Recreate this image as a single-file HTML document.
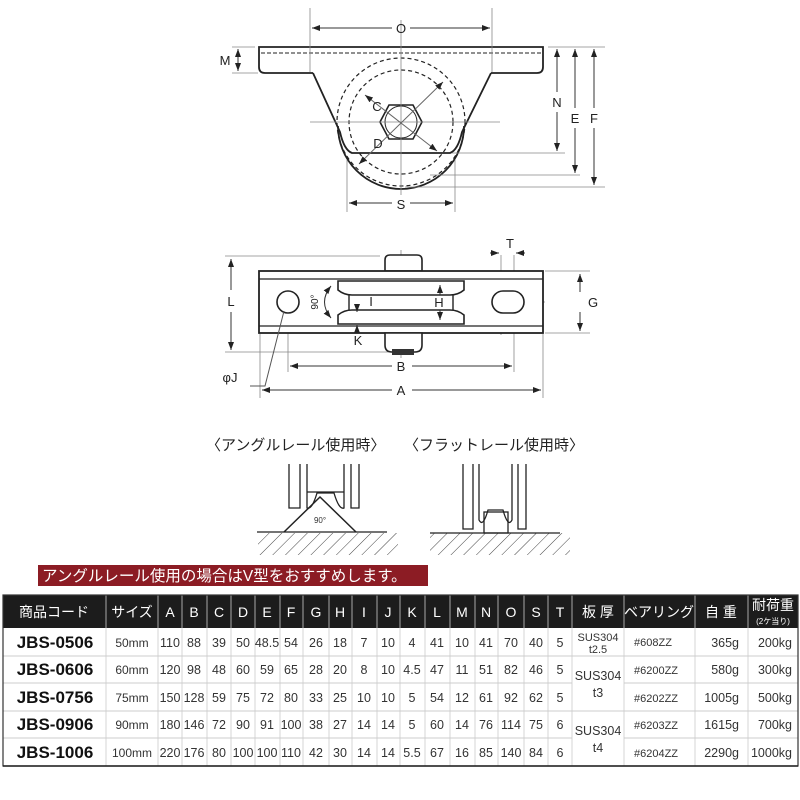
<!DOCTYPE html>
<html><head><meta charset="utf-8"><style>
body{margin:0;background:#fff;width:800px;height:800px;overflow:hidden}
svg{display:block}
text{font-family:"Liberation Sans","Noto Sans CJK JP",sans-serif}
</style></head><body>
<svg width="800" height="800" viewBox="0 0 800 800" xmlns="http://www.w3.org/2000/svg">
<defs>
<marker id="ar" markerWidth="8" markerHeight="6" refX="8" refY="3" orient="auto-start-reverse" markerUnits="userSpaceOnUse"><path d="M0,0 L8,3 L0,6 Z" fill="#222"/></marker>
<pattern id="hatch" width="9" height="9" patternUnits="userSpaceOnUse" patternTransform="rotate(45)"><line x1="0" y1="0" x2="0" y2="9" stroke="#444" stroke-width="1"/></pattern>
</defs>
<g fill="none" stroke="#222" stroke-width="1.8">
<path d="M313,73 L265,73 Q259,73 259,67 L259,47 L543,47 L543,67 Q543,73 537,73 L491,73"/>
<path d="M313,73 L340,132 Q344,150 352,153 L450,153 Q458,150 462,132 L491,73"/>
<path d="M338,126 A63,63 0 0 0 464,126"/>
</g>
<line x1="261" y1="53" x2="541" y2="53" stroke="#222" stroke-width="1" stroke-dasharray="4,2"/>
<circle cx="401" cy="122" r="64" fill="none" stroke="#222" stroke-width="1.2" stroke-dasharray="4,3"/>
<circle cx="401" cy="122" r="52" fill="none" stroke="#222" stroke-width="1.2" stroke-dasharray="4,3"/>
<polygon points="389,105 413,105 422,122 413,139 389,139 380,122" fill="#fff" stroke="#222" stroke-width="1.6"/>
<circle cx="401" cy="122" r="16" fill="none" stroke="#222" stroke-width="1"/>
<g stroke="#888" stroke-width="0.8" fill="none">
<line x1="401" y1="20" x2="401" y2="195"/><line x1="310" y1="122" x2="500" y2="122"/>
<line x1="310" y1="8" x2="310" y2="72"/><line x1="492" y1="8" x2="492" y2="72"/>
<line x1="232" y1="47" x2="255" y2="47"/><line x1="232" y1="73" x2="258" y2="73"/>
<line x1="548" y1="47" x2="605" y2="47"/><line x1="452" y1="153" x2="565" y2="153"/>
<line x1="430" y1="175" x2="580" y2="175"/><line x1="405" y1="187" x2="605" y2="187"/>
<line x1="347" y1="160" x2="347" y2="212"/><line x1="455" y1="160" x2="455" y2="212"/>
</g>
<g stroke="#333" stroke-width="1" fill="none">
<line x1="312" y1="28" x2="392" y2="28" marker-start="url(#ar)"/><line x1="410" y1="28" x2="490" y2="28" marker-end="url(#ar)"/>
<line x1="238" y1="49" x2="238" y2="71" marker-start="url(#ar)" marker-end="url(#ar)"/>
<line x1="557" y1="49" x2="557" y2="92" marker-start="url(#ar)"/><line x1="557" y1="112" x2="557" y2="151" marker-end="url(#ar)"/>
<line x1="575" y1="49" x2="575" y2="108" marker-start="url(#ar)"/><line x1="575" y1="128" x2="575" y2="173" marker-end="url(#ar)"/>
<line x1="594" y1="49" x2="594" y2="108" marker-start="url(#ar)"/><line x1="594" y1="128" x2="594" y2="185" marker-end="url(#ar)"/>
<line x1="349" y1="203" x2="392" y2="203" marker-start="url(#ar)"/><line x1="410" y1="203" x2="453" y2="203" marker-end="url(#ar)"/>
<line x1="365" y1="95" x2="437" y2="151" stroke="#666" marker-start="url(#ar)" marker-end="url(#ar)"/>
<line x1="359" y1="164" x2="443" y2="82" stroke="#666" marker-start="url(#ar)" marker-end="url(#ar)"/>
</g>
<g font-size="13" fill="#222" text-anchor="middle">
<text x="401" y="33">O</text><text x="225" y="65">M</text><text x="557" y="107">N</text>
<text x="575" y="123">E</text><text x="594" y="123">F</text><text x="401" y="209">S</text>
<text x="377" y="111">C</text><text x="378" y="148">D</text>
</g>
<g stroke="#888" stroke-width="0.8">
<line x1="225" y1="256" x2="380" y2="256"/><line x1="225" y1="352" x2="395" y2="352"/>
<line x1="545" y1="271" x2="590" y2="271"/><line x1="545" y1="333" x2="590" y2="333"/>
<line x1="260" y1="334" x2="260" y2="398"/><line x1="543" y1="334" x2="543" y2="398"/>
<line x1="288" y1="285" x2="288" y2="372"/><line x1="514" y1="255" x2="514" y2="372"/>
<line x1="501" y1="255" x2="501" y2="335"/><line x1="401" y1="250" x2="401" y2="358"/>
<line x1="260" y1="302" x2="545" y2="302"/>
</g>
<path d="M385,271 L385,260 Q385,255 390,255 L417,255 Q422,255 422,260 L422,271 Z" fill="#fff" stroke="#222" stroke-width="1.6"/>
<rect x="259" y="271" width="284" height="62" fill="#fff" stroke="#222" stroke-width="1.8"/>
<line x1="259" y1="279" x2="543" y2="279" stroke="#222" stroke-width="1.3"/>
<line x1="259" y1="326" x2="543" y2="326" stroke="#222" stroke-width="1.3"/>
<path d="M385,333 L385,345 Q385,352 392,352 L415,352 Q422,352 422,345 L422,333 Z" fill="#fff" stroke="#222" stroke-width="1.6"/>
<rect x="392" y="349" width="22" height="6" fill="#333"/>
<path d="M338,281 L464,281 L464,290 Q458,295 450,295 L352,295 Q344,295 338,290 Z" fill="#fff" stroke="#222" stroke-width="1.6"/>
<path d="M338,324 L464,324 L464,315 Q458,310 450,310 L352,310 Q344,310 338,315 Z" fill="#fff" stroke="#222" stroke-width="1.6"/>
<line x1="349" y1="295" x2="349" y2="310" stroke="#222" stroke-width="1.4"/>
<line x1="453" y1="295" x2="453" y2="310" stroke="#222" stroke-width="1.4"/>
<circle cx="288" cy="302" r="11" fill="#fff" stroke="#222" stroke-width="1.6"/>
<rect x="492" y="291" width="32" height="22" rx="11" fill="#fff" stroke="#222" stroke-width="1.6"/>
<path d="M331,286 Q318,302 331,318" fill="none" stroke="#333" stroke-width="1" marker-start="url(#ar)" marker-end="url(#ar)"/>
<g stroke="#333" stroke-width="1" fill="none">
<line x1="231" y1="259" x2="231" y2="290" marker-start="url(#ar)"/><line x1="231" y1="312" x2="231" y2="350" marker-end="url(#ar)"/>
<line x1="580" y1="274" x2="580" y2="292" marker-start="url(#ar)"/><line x1="580" y1="312" x2="580" y2="331" marker-end="url(#ar)"/>
<line x1="262" y1="390" x2="392" y2="390" marker-start="url(#ar)"/><line x1="412" y1="390" x2="541" y2="390" marker-end="url(#ar)"/>
<line x1="290" y1="366" x2="392" y2="366" marker-start="url(#ar)"/><line x1="412" y1="366" x2="512" y2="366" marker-end="url(#ar)"/>
<line x1="490" y1="253" x2="499" y2="253" marker-end="url(#ar)"/><line x1="525" y1="253" x2="516" y2="253" marker-end="url(#ar)"/>
<line x1="440" y1="285" x2="440" y2="295" marker-start="url(#ar)"/><line x1="440" y1="320" x2="440" y2="310" marker-start="url(#ar)"/>
<line x1="357" y1="304" x2="357" y2="312" marker-end="url(#ar)"/><line x1="357" y1="330" x2="357" y2="325" marker-end="url(#ar)"/>
<polyline points="250,386 265,386 284,311" stroke="#555"/>
</g>
<g font-size="13" fill="#222" text-anchor="middle">
<text x="231" y="306">L</text><text x="593" y="307">G</text><text x="401" y="395">A</text><text x="401" y="371">B</text>
<text x="510" y="248">T</text><text x="439" y="307">H</text><text x="371" y="306">I</text><text x="358" y="345">K</text>
<text x="230" y="382">φJ</text>
<text x="318" y="302" font-size="10" transform="rotate(-90 318 302)">90°</text>
</g>
<g font-size="15" fill="#222">
<text x="206" y="450">〈アングルレール使用時〉</text>
<text x="404" y="450">〈フラットレール使用時〉</text>
</g>
<rect x="258" y="533" width="140" height="22" fill="url(#hatch)"/>
<rect x="430" y="533" width="140" height="22" fill="url(#hatch)"/>
<g fill="none" stroke="#222" stroke-width="1.3">
<line x1="257" y1="532" x2="387" y2="532"/>
<line x1="430" y1="533" x2="560" y2="533"/>
<path d="M289,464 L289,508 L300,508 L300,464 M307,464 L307,508 Q312,510 317,493 L334,493 Q339,510 344,508 L344,464 M351,464 L351,508 L359,508 L359,464"/>
<line x1="307" y1="492" x2="344" y2="492"/>
<path d="M284,532 L320,497 L356,532" stroke-width="1.5"/>
<path d="M463,464 L463,529 L473,529 L473,464 M479,464 L479,520 Q483,528 488,510 L503,510 Q508,528 512,520 L512,464 M518,464 L518,529 L526,529 L526,464"/>
<rect x="484" y="512" width="24" height="21"/>
</g>
<text x="320" y="523" font-size="8" text-anchor="middle" fill="#333">90°</text>
<rect x="38" y="565" width="390" height="21" fill="#8c1c24"/>
<text x="42" y="581" font-size="15.5" fill="#fff">アングルレール使用の場合はV型をおすすめします。</text>
<rect x="3" y="595" width="795" height="33" fill="#1c1c1c"/>
<g stroke="#bbb" stroke-width="0.8">
<line x1="3" y1="656" x2="798" y2="656"/><line x1="3" y1="683" x2="572" y2="683"/><line x1="624" y1="683" x2="798" y2="683"/>
<line x1="3" y1="711" x2="798" y2="711"/><line x1="3" y1="738" x2="572" y2="738"/><line x1="624" y1="738" x2="798" y2="738"/>
</g>
<g stroke="#ccc" stroke-width="0.8">
<line x1="106" y1="595" x2="106" y2="766"/><line x1="158" y1="595" x2="158" y2="766"/><line x1="182" y1="595" x2="182" y2="766"/><line x1="207" y1="595" x2="207" y2="766"/><line x1="231" y1="595" x2="231" y2="766"/><line x1="255" y1="595" x2="255" y2="766"/><line x1="280" y1="595" x2="280" y2="766"/><line x1="303" y1="595" x2="303" y2="766"/><line x1="329" y1="595" x2="329" y2="766"/><line x1="352" y1="595" x2="352" y2="766"/><line x1="377" y1="595" x2="377" y2="766"/><line x1="400" y1="595" x2="400" y2="766"/><line x1="425" y1="595" x2="425" y2="766"/><line x1="450" y1="595" x2="450" y2="766"/><line x1="475" y1="595" x2="475" y2="766"/><line x1="498" y1="595" x2="498" y2="766"/><line x1="524" y1="595" x2="524" y2="766"/><line x1="548" y1="595" x2="548" y2="766"/><line x1="572" y1="595" x2="572" y2="766"/><line x1="624" y1="595" x2="624" y2="766"/><line x1="695" y1="595" x2="695" y2="766"/><line x1="748" y1="595" x2="748" y2="766"/>
</g>
<rect x="3" y="595" width="795" height="171" fill="none" stroke="#333" stroke-width="1.2"/>
<line x1="3" y1="766" x2="798" y2="766" stroke="#222" stroke-width="1.6"/>
<g font-size="14" fill="#fff" text-anchor="middle">
<text x="54" y="617">商品コード</text><text x="132" y="617">サイズ</text>
<text x="170" y="617">A</text><text x="194" y="617">B</text><text x="219" y="617">C</text><text x="243" y="617">D</text><text x="267" y="617">E</text><text x="291" y="617">F</text><text x="316" y="617">G</text><text x="340" y="617">H</text><text x="364" y="617">I</text><text x="388" y="617">J</text><text x="412" y="617">K</text><text x="437" y="617">L</text><text x="462" y="617">M</text><text x="486" y="617">N</text><text x="511" y="617">O</text><text x="536" y="617">S</text><text x="560" y="617">T</text>
<text x="598" y="617">板 厚</text><text x="659" y="617">ベアリング</text><text x="721" y="617">自 重</text>
<text x="773" y="610">耐荷重</text><text x="773" y="624" font-size="8">(2ケ当り)</text>
</g>
<g font-size="17" font-weight="bold" fill="#111" text-anchor="middle">
<text x="55" y="648">JBS-0506</text><text x="55" y="675">JBS-0606</text><text x="55" y="703">JBS-0756</text><text x="55" y="730">JBS-0906</text><text x="55" y="758">JBS-1006</text>
</g>
<g font-size="12" fill="#333" text-anchor="middle">
<text x="132" y="647">50mm</text><text x="132" y="674">60mm</text><text x="132" y="702">75mm</text><text x="132" y="729">90mm</text><text x="132" y="757">100mm</text>
</g>
<g font-size="12.5" fill="#333" text-anchor="middle">
<g transform="translate(0,647)"><text x="170">110</text><text x="194">88</text><text x="219">39</text><text x="243">50</text><text x="267">48.5</text><text x="291">54</text><text x="316">26</text><text x="340">18</text><text x="364">7</text><text x="388">10</text><text x="412">4</text><text x="437">41</text><text x="462">10</text><text x="486">41</text><text x="511">70</text><text x="536">40</text><text x="560">5</text></g>
<g transform="translate(0,674)"><text x="170">120</text><text x="194">98</text><text x="219">48</text><text x="243">60</text><text x="267">59</text><text x="291">65</text><text x="316">28</text><text x="340">20</text><text x="364">8</text><text x="388">10</text><text x="412">4.5</text><text x="437">47</text><text x="462">11</text><text x="486">51</text><text x="511">82</text><text x="536">46</text><text x="560">5</text></g>
<g transform="translate(0,702)"><text x="170">150</text><text x="194">128</text><text x="219">59</text><text x="243">75</text><text x="267">72</text><text x="291">80</text><text x="316">33</text><text x="340">25</text><text x="364">10</text><text x="388">10</text><text x="412">5</text><text x="437">54</text><text x="462">12</text><text x="486">61</text><text x="511">92</text><text x="536">62</text><text x="560">5</text></g>
<g transform="translate(0,729)"><text x="170">180</text><text x="194">146</text><text x="219">72</text><text x="243">90</text><text x="267">91</text><text x="291">100</text><text x="316">38</text><text x="340">27</text><text x="364">14</text><text x="388">14</text><text x="412">5</text><text x="437">60</text><text x="462">14</text><text x="486">76</text><text x="511">114</text><text x="536">75</text><text x="560">6</text></g>
<g transform="translate(0,757)"><text x="170">220</text><text x="194">176</text><text x="219">80</text><text x="243">100</text><text x="267">100</text><text x="291">110</text><text x="316">42</text><text x="340">30</text><text x="364">14</text><text x="388">14</text><text x="412">5.5</text><text x="437">67</text><text x="462">16</text><text x="486">85</text><text x="511">140</text><text x="536">84</text><text x="560">6</text></g>
<text x="598" y="641" font-size="11">SUS304</text><text x="598" y="653" font-size="11">t2.5</text>
<text x="598" y="680">SUS304</text><text x="598" y="697">t3</text>
<text x="598" y="735">SUS304</text><text x="598" y="752">t4</text>
</g>
<g font-size="11" fill="#333">
<text x="634" y="646">#608ZZ</text><text x="634" y="674">#6200ZZ</text><text x="634" y="702">#6202ZZ</text><text x="634" y="729">#6203ZZ</text><text x="634" y="757">#6204ZZ</text>
</g>
<g font-size="12.5" fill="#333" text-anchor="end">
<text x="739" y="647">365g</text><text x="739" y="674">580g</text><text x="739" y="702">1005g</text><text x="739" y="729">1615g</text><text x="739" y="757">2290g</text>
<text x="792" y="647">200kg</text><text x="792" y="674">300kg</text><text x="792" y="702">500kg</text><text x="792" y="729">700kg</text><text x="792" y="757">1000kg</text>
</g>
</svg>
</body></html>
